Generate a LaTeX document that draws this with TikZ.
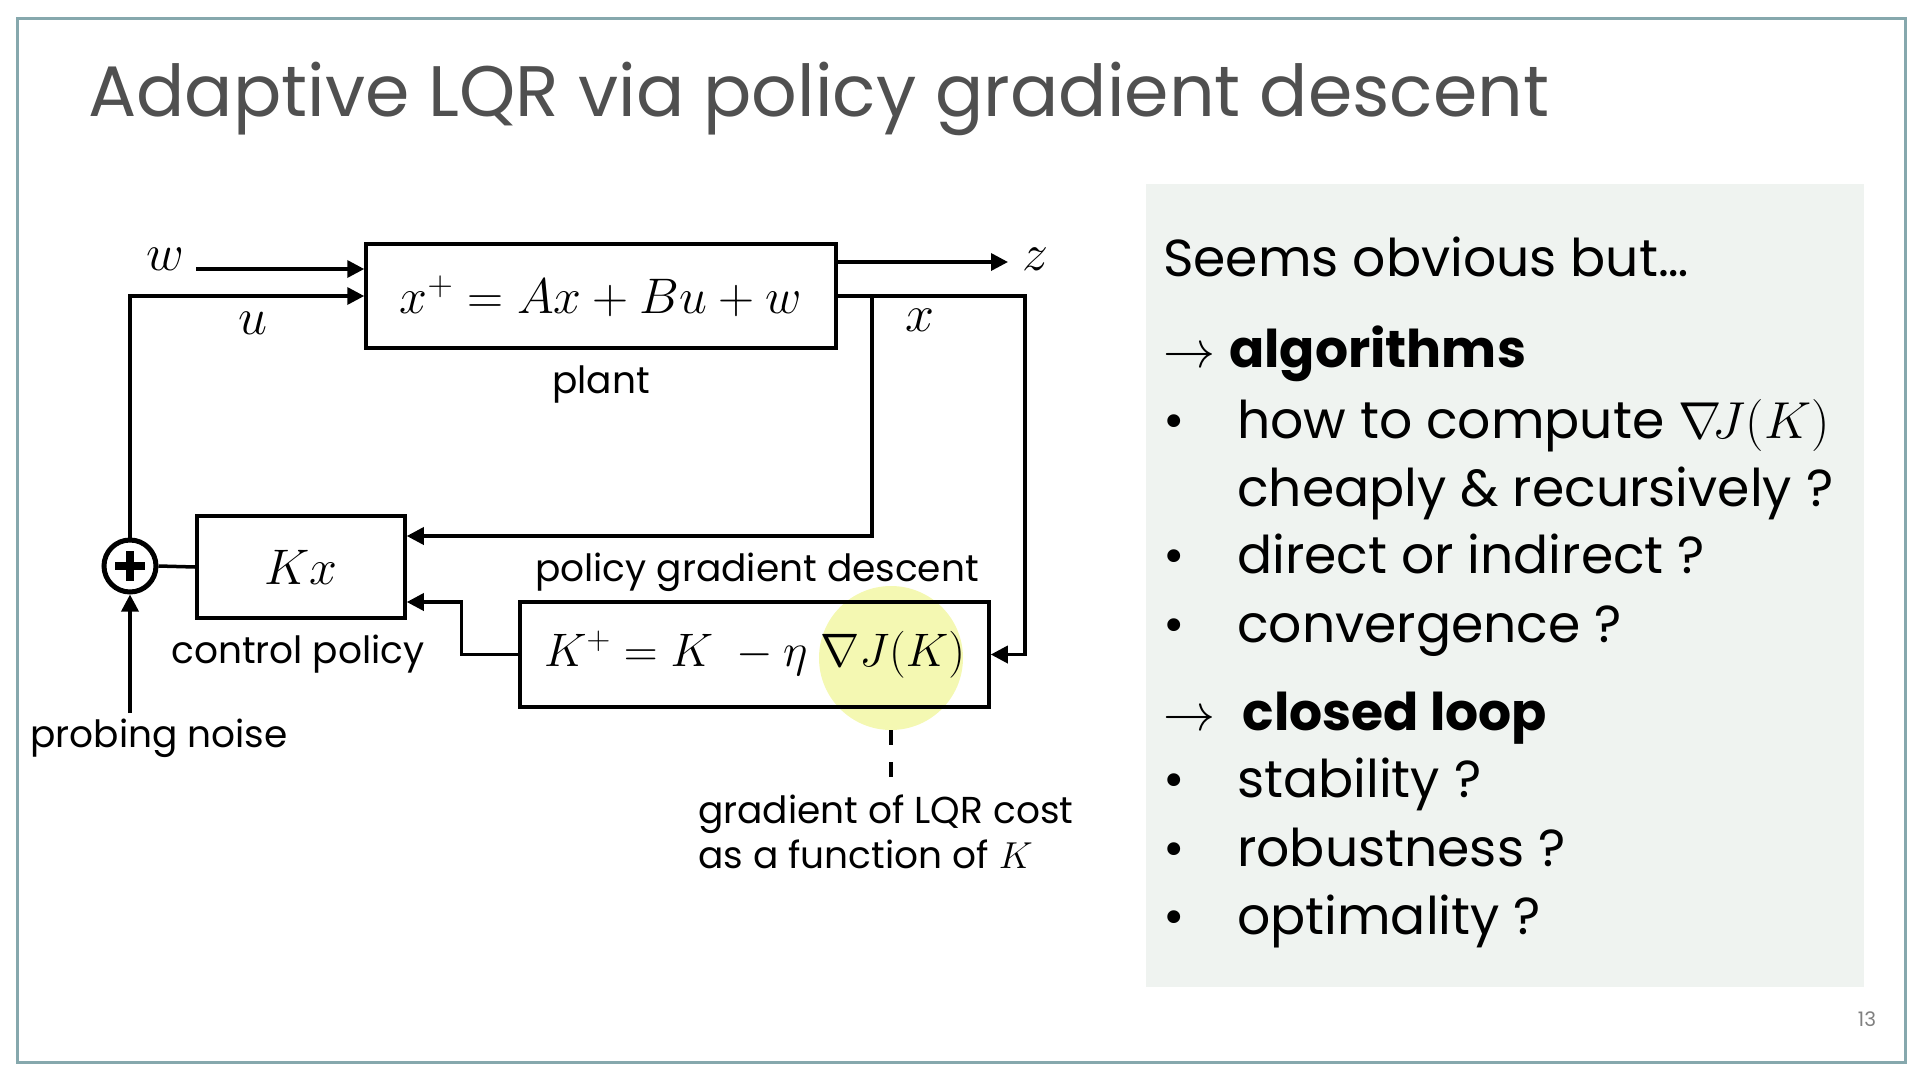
\documentclass[tikz,border=0pt]{standalone}
\usepackage{fix-cm}
\usepackage[no-math]{fontspec}
\setmainfont{Poppins}
\usetikzlibrary{arrows.meta, positioning, calc}
\definecolor{framecol}{HTML}{86A8AD}
\definecolor{panelcol}{HTML}{EFF3F0}
\definecolor{titlecol}{HTML}{505050}
\definecolor{hicol}{HTML}{F4F8B2}
\tikzset{
  block/.style  = {rectangle, draw, line width=3.5pt, inner sep=0pt,
    font=\fontsize{50}{56}\selectfont},
  arrow/.style  = {line width=3.5pt, -{Triangle[length=17pt,width=17pt]}},
  line/.style   = {line width=3.5pt},
  lbl/.style    = {font=\fontsize{37.5}{45}\selectfont},
  mlbl/.style   = {font=\fontsize{52}{56}\selectfont},
  item/.style   = {anchor=base west, inner sep=0pt, font=\fontsize{52}{60}\selectfont},
}

\begin{document}
\begin{tikzpicture}[x=1pt, y=-1pt]
  \useasboundingbox (0,0) rectangle (1920,1080);
  \draw[framecol, line width=3pt] (17,18) rectangle (1905,1062);

  % title
  \node[anchor=base west, inner sep=0pt, text=titlecol,
    font=\fontsize{71.5}{80}\selectfont] (title) at (88,116)
    {Adaptive LQR via policy gradient descent};

  % highlight behind the update law
  \node[circle, fill=hicol, minimum size=144pt, inner sep=0pt] (hilite) at (891,658) {};

  % blocks
  \node[block, minimum width=470pt, minimum height=104pt] (plant) at (601,296)
    {$x^+ = Ax + Bu + w$};
  \node[block, minimum width=208pt, minimum height=102pt] (kx) at (301,567)
    {$Kx$};
  \node[block, minimum width=469pt, minimum height=105pt, font=\fontsize{47}{52}\selectfont]
    (grad) at (754.5,654.5) {$K^+ = K\ - \eta\ \nabla J(K)$};
  \node[circle, draw, line width=5pt, minimum size=52pt, inner sep=0pt] (sum) at (130,566) {};
  \draw[line width=8pt] ($(sum.center)+(-15,0)$) -- ($(sum.center)+(15,0)$);
  \draw[line width=8pt] ($(sum.center)+(0,-15)$) -- ($(sum.center)+(0,15)$);

  % labels
  \node[mlbl] (wlbl) at (165,259) {$w$};
  \node[mlbl] (ulbl) at (253,323) {$u$};
  \node[mlbl] (zlbl) at (1035,259) {$z$};
  \node[mlbl] (xlbl) at (920,320) {$x$};
  \node[lbl, below=12pt of plant] (plantlbl) {plant};
  \node[lbl] (kxlbl) at (298,654) {control policy};
  \node[lbl] (gradlbl) at (757,572) {policy gradient descent};
  \node[lbl] (noise) at (159,738) {probing noise};
  \node[lbl, anchor=base west, align=left, inner sep=0pt] (note) at (698,868)
    {gradient of LQR cost\\as a function of $K$};

  \coordinate (win) at (196,269);
  \coordinate (zout) at (1008,262);
  \coordinate (xturn) at (1025,296);
  \coordinate (xbranch) at (872,296);
  \coordinate (nin) at (130,713);
  \coordinate (notetop) at (891,781);

  % connectors
  \draw[arrow] (win) -- (win -| plant.west);
  \draw[arrow] (sum.north) |- (plant.west);
  \draw[arrow] (plant.east |- zout) -- (zout);
  \draw[arrow] (plant.east) -- (xturn) |- (grad.east);
  \draw[arrow] (xbranch) |- ([yshift=31pt]kx.east);
  \draw[arrow] (grad.west) -- ++(-57,0) |- ([yshift=-35pt]kx.east);
  \draw[line] (sum.east) -- (kx.west);
  \draw[arrow] (nin) -- (sum.south);
  \draw[line, dash pattern=on 15pt off 17pt] (hilite.south) -- (notetop);

  % right panel
  \node[fill=panelcol, minimum width=718pt, minimum height=803pt, anchor=north west,
    inner sep=0pt] (panel) at (1146,184) {};
  \node[item] (seems) at (1163,276) {Seems obvious but…};
  \node[item] (algo) at (1163,367) {$\rightarrow$ \textbf{algorithms}};
  \node[item] (b1) at (1237,438) {how to compute $\nabla\! J(K)$};
  \node[item] (b1b) at (1237,506) {cheaply \& recursively ?};
  \node[item] (b2) at (1237,573) {direct or indirect ?};
  \node[item] (b3) at (1237,642) {convergence ?};
  \node[item] (loop) at (1163,730) {$\rightarrow$\ \ \textbf{closed loop}};
  \node[item] (b4) at (1237,797) {stability ?};
  \node[item] (b5) at (1237,866) {robustness ?};
  \node[item] (b6) at (1237,934) {optimality ?};
  \foreach \n in {b1,b2,b3,b4,b5,b6}
    \node[item] at (1163,0 |- \n.base) {•};

  \node[text=gray, font=\fontsize{20}{24}\selectfont] (page) at (1867,1019) {13};
\end{tikzpicture}
\end{document}
